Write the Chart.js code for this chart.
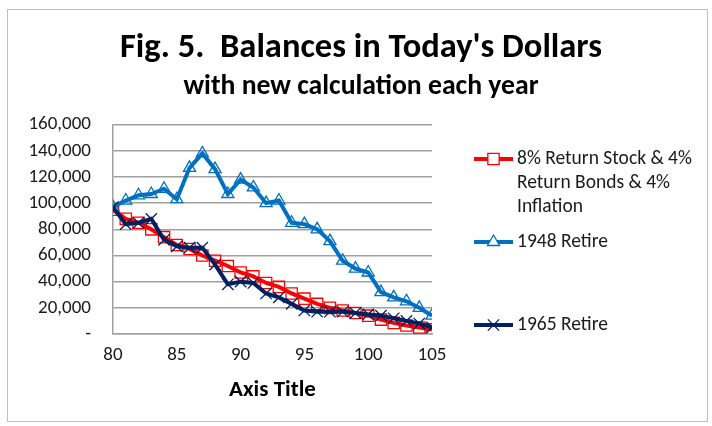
<!DOCTYPE html>
<html>
<head>
<meta charset="utf-8">
<script src="https://cdn.jsdelivr.net/npm/chart.js@4.4.0/dist/chart.umd.min.js"></script>
<style>
  html, body { margin: 0; padding: 0; background: #fff; }
  #wrap { position: relative; width: 712px; height: 426px; }
  #frame { position: absolute; left: 7px; top: 9px; width: 699px; height: 411px; border: 1px solid #BFBFBF; pointer-events: none; }
  canvas { position: absolute; left: 0; top: 0; }
</style>
</head>
<body>
<div id="wrap">
  <canvas id="balanceChart" width="712" height="426"></canvas>
  <div id="frame"></div>
</div>
<script>
const FONT = 'Carlito, Lato, "Open Sans", sans-serif';

// ages on the x axis
const ages = [80, 81, 82, 83, 84, 85, 86, 87, 88, 89, 90, 91, 92, 93, 94, 95, 96, 97, 98, 99, 100, 101, 102, 103, 104, 105];

const seriesNames = ['8% Return Stock & 4% Return Bonds & 4% Inflation', '1948 Retire', '1965 Retire'];

const stock8Bond4 = [95000, 88000, 85000, 80000, 74000, 68000, 65000, 60000, 56000, 52000, 47000, 44000, 39000,
                     36000, 31000, 27000, 23000, 20000, 18000, 16000, 14000, 11000, 8500, 6500, 5000, 3500];
const retire1948 = [97000, 102000, 106000, 107000, 111000, 103000, 127000, 138000, 126000, 107000, 118000, 112000, 100000,
                    102000, 85000, 84000, 80000, 71000, 56000, 50000, 47000, 32000, 28000, 25000, 20000, 14000];
const retire1965 = [97000, 84000, 85000, 88000, 72000, 67000, 66000, 66000, 53000, 38000, 40000, 39000, 31000,
                    28000, 23000, 18000, 17000, 17000, 17000, 16000, 15000, 14000, 12000, 10000, 8000, 5000];

const toPoints = arr => ages.map((x, i) => ({ x: x, y: arr[i] }));

// y centre of each legend entry
const legendRows = [159, 242, 325];

function wrapText(ctx, text, maxWidth) {
    const words = text.split(' ');
    const lines = [];
    let line = '';
    words.forEach(w => {
        const test = line ? line + ' ' + w : w;
        if (ctx.measureText(test).width > maxWidth && line) {
            lines.push(line);
            line = w;
        } else {
            line = test;
        }
    });
    if (line) lines.push(line);
    return lines;
}

const sideLegend = {
    id: 'sideLegend',
    afterDraw(chart) {
        const ctx = chart.ctx;
        chart.data.datasets.forEach((ds, i) => {
            const y = legendRows[i];
            ctx.save();
            ctx.strokeStyle = ds.borderColor;
            ctx.lineWidth = ds.borderWidth;
            ctx.beginPath();
            ctx.moveTo(474, y);
            ctx.lineTo(513, y);
            ctx.stroke();

            ctx.strokeStyle = ds.pointBorderColor;
            ctx.fillStyle = '#fff';
            ctx.lineWidth = ds.pointBorderWidth;
            Chart.helpers.drawPoint(ctx, {
                pointStyle: ds.pointStyle,
                radius: ds.pointRadius,
                borderWidth: ds.pointBorderWidth,
                rotation: 0
            }, 493.5, y);

            ctx.fillStyle = '#1a1a1a';
            ctx.font = '19.5px ' + FONT;
            ctx.textBaseline = 'middle';
            ctx.textAlign = 'left';
            wrapText(ctx, ds.label, 186).forEach((line, j) => ctx.fillText(line, 517, y + j * 24));
            ctx.restore();
        });
    }
};

const ctx = document.getElementById('balanceChart').getContext('2d');

new Chart(ctx, {
    type: 'line',
    data: {
        datasets: [{
            label: seriesNames[0],
            data: toPoints(stock8Bond4),
            borderColor: '#FF0000',
            borderWidth: 4,
            pointStyle: 'rect',
            pointRadius: 8,
            pointBorderWidth: 1.3,
            pointBorderColor: '#FF0000',
            pointBackgroundColor: 'rgba(0,0,0,0)',
            order: 3
        }, {
            label: seriesNames[1],
            data: toPoints(retire1948),
            borderColor: '#0070C0',
            borderWidth: 4,
            pointStyle: 'triangle',
            pointRadius: 7,
            pointBorderWidth: 1.3,
            pointBorderColor: '#0070C0',
            pointBackgroundColor: 'rgba(0,0,0,0)',
            order: 2
        }, {
            label: seriesNames[2],
            data: toPoints(retire1965),
            borderColor: '#002060',
            borderWidth: 4,
            pointStyle: 'crossRot',
            pointRadius: 8,
            pointBorderWidth: 1.3,
            pointBorderColor: '#002060',
            pointBackgroundColor: 'rgba(0,0,0,0)',
            order: 1
        }]
    },
    options: {
        responsive: false,
        animation: false,
        layout: { padding: { left: 10, right: 0, top: 0, bottom: 22 } },
        plugins: {
            legend: { display: false },
            tooltip: { enabled: false },
            title: {
                display: true,
                text: "Fig. 5.  Balances in Today's Dollars",
                color: '#000',
                font: { family: FONT, size: 34.5, weight: 'bold' },
                padding: { top: 28, bottom: 0 }
            },
            subtitle: {
                display: true,
                text: 'with new calculation each year',
                color: '#000',
                font: { family: FONT, size: 27.7, weight: 'bold' },
                padding: { top: 1, bottom: 21 }
            }
        },
        scales: {
            x: {
                type: 'linear',
                min: 80,
                max: 105,
                afterFit: s => { s.height = 70; },
                grid: { display: false, drawTicks: false },
                border: { display: true, color: '#A0A0A0', width: 1.5 },
                ticks: { stepSize: 5, padding: 10, color: '#1a1a1a', font: { family: FONT, size: 19 } },
                title: {
                    display: true,
                    text: 'Axis Title',
                    color: '#000',
                    font: { family: FONT, size: 23, weight: 'bold' },
                    padding: { top: 10, bottom: 0 }
                }
            },
            y: {
                min: 0,
                max: 160000,
                afterFit: s => { s.width = 103; },
                grid: { color: '#A0A0A0', lineWidth: 1.5, drawTicks: false },
                border: { display: true, color: '#A0A0A0', width: 1.5 },
                ticks: {
                    stepSize: 20000,
                    padding: 22,
                    color: '#1a1a1a',
                    font: { family: FONT, size: 19 },
                    callback: v => v === 0 ? '-' : v.toLocaleString('en-US')
                }
            },
            // empty right-hand axis that keeps room for the legend
            legendSpace: {
                type: 'linear',
                position: 'right',
                afterFit: s => { s.width = 280; },
                grid: { display: false, drawTicks: false },
                border: { display: false },
                ticks: { display: false }
            }
        }
    },
    plugins: [sideLegend]
});
</script>
</body>
</html>
